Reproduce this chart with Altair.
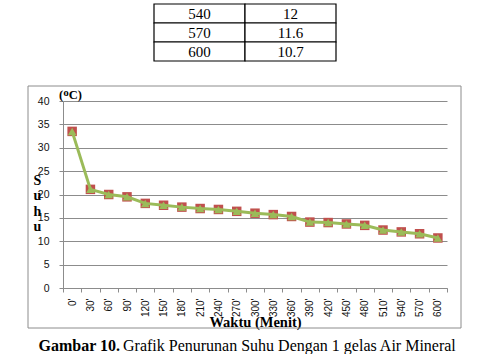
import altair as alt
import pandas as pd

# ---- data ----
waktu = ["0'", "30'", "60'", "90'", "120'", "150'", "180'", "210'", "240'", "270'",
         "300'", "330'", "360'", "390'", "420'", "450'", "480'", "510'", "540'", "570'", "600'"]
suhu = [33.5, 21.1, 20.0, 19.5, 18.1, 17.7, 17.3, 17.0, 16.8, 16.4,
        16.0, 15.7, 15.3, 14.1, 14.0, 13.7, 13.4, 12.4, 12.0, 11.6, 10.7]

tabel_waktu = ["540", "570", "600"]
tabel_suhu = ["12", "11.6", "10.7"]

y_ticks = [0, 5, 10, 15, 20, 25, 30, 35, 40]

caption_bold = "Gambar 10."
caption_rest = "Grafik Penurunan Suhu Dengan 1 gelas Air Mineral"
satuan = "(\u1d3cC)"
judul_x = "Waktu (Menit)"
judul_y = ["S", "u", "h", "u"]

SERIF = "Liberation Serif"
SANS = "Liberation Sans"
GRID = "#8c8c8c"

# ---- table ----
rows = []
for i, (w, s) in enumerate(zip(tabel_waktu, tabel_suhu)):
    rows.append({"baris": i, "kolom": "a", "isi": w})
    rows.append({"baris": i, "kolom": "b", "isi": s})
tdf = pd.DataFrame(rows)

tbase = alt.Chart(tdf).encode(
    x=alt.X("kolom:N", scale=alt.Scale(range=[91, 273], paddingInner=0, paddingOuter=0), axis=None),
    y=alt.Y("baris:O", scale=alt.Scale(paddingInner=0, paddingOuter=0), axis=None),
)
cells = tbase.mark_rect(fill="white", stroke="black", strokeWidth=1.2)
ctext = tbase.mark_text(font=SERIF, fontSize=15, color="black").encode(text="isi:N")
table = alt.layer(cells, ctext).properties(width=384, height=57)

# ---- main chart ----
df = pd.DataFrame({"waktu": waktu, "suhu": suhu})

x_enc = alt.X(
    "waktu:N", sort=waktu,
    scale=alt.Scale(type="band", paddingInner=0, paddingOuter=0),
    axis=alt.Axis(
        title=judul_x, labelAngle=-90, labelFont=SANS, labelFontSize=10, labelColor="#111",
        labelPadding=6, tickBand="extent", ticks=True, tickSize=4, tickColor=GRID,
        domainColor=GRID, grid=False,
        titleFont=SERIF, titleFontWeight="bold", titleFontSize=14.5, titleColor="black",
        titleX=192, titleY=38, titleBaseline="alphabetic", titleAlign="center",
    ),
)
y_enc = alt.Y(
    "suhu:Q",
    scale=alt.Scale(domain=[0, 40], nice=False, zero=True),
    axis=alt.Axis(
        values=y_ticks, title=judul_y, titleAngle=0, titleAlign="center",
        titleBaseline="top", titleX=-26, titleY=72, titleLineHeight=15.5,
        titleFont=SERIF, titleFontWeight="bold", titleFontSize=14, titleColor="black",
        labelFont=SANS, labelFontSize=10.5, labelColor="#111", labelPadding=10,
        tickSize=4, tickColor=GRID, domainColor=GRID, gridColor=GRID, grid=True,
    ),
)

base = alt.Chart(df).encode(x=x_enc, y=y_enc)

box = alt.Chart(pd.DataFrame({"k": [0]})).mark_rect(
    fill="transparent", stroke=GRID, strokeWidth=1
).encode(x=alt.value(-35), x2=alt.value(398), y=alt.value(-15), y2=alt.value(227))

squares = base.mark_point(shape="square", filled=True, color="#C0504D", size=90, opacity=1)
line = base.mark_line(color="#9BBB59", strokeWidth=3)
triangles = base.mark_point(shape="triangle-up", filled=True, color="#9BBB59", size=75, opacity=1)

unit = alt.Chart(pd.DataFrame({"t": [satuan]})).mark_text(
    font=SERIF, fontWeight="bold", fontSize=12.5, align="left", baseline="alphabetic", color="black"
).encode(text="t:N", x=alt.value(-4), y=alt.value(-2))

cap1 = alt.Chart(pd.DataFrame({"t": [caption_bold]})).mark_text(
    font=SERIF, fontWeight="bold", fontSize=16, align="right", baseline="alphabetic", color="black"
).encode(text="t:N", x=alt.value(57), y=alt.value(250))
cap2 = alt.Chart(pd.DataFrame({"t": [caption_rest]})).mark_text(
    font=SERIF, fontSize=16, align="left", baseline="alphabetic", color="black"
).encode(text="t:N", x=alt.value(60), y=alt.value(250))

main = alt.layer(box, squares, line, triangles, unit, cap1, cap2).properties(width=384, height=187)

chart = alt.vconcat(table, main, spacing=40, bounds="flush").properties(
    padding={"left": 27, "top": 3, "right": 0, "bottom": 0},
    background="white",
).configure_view(stroke=None)

chart.save("out.html", embed_options={"renderer": "svg", "actions": False})
